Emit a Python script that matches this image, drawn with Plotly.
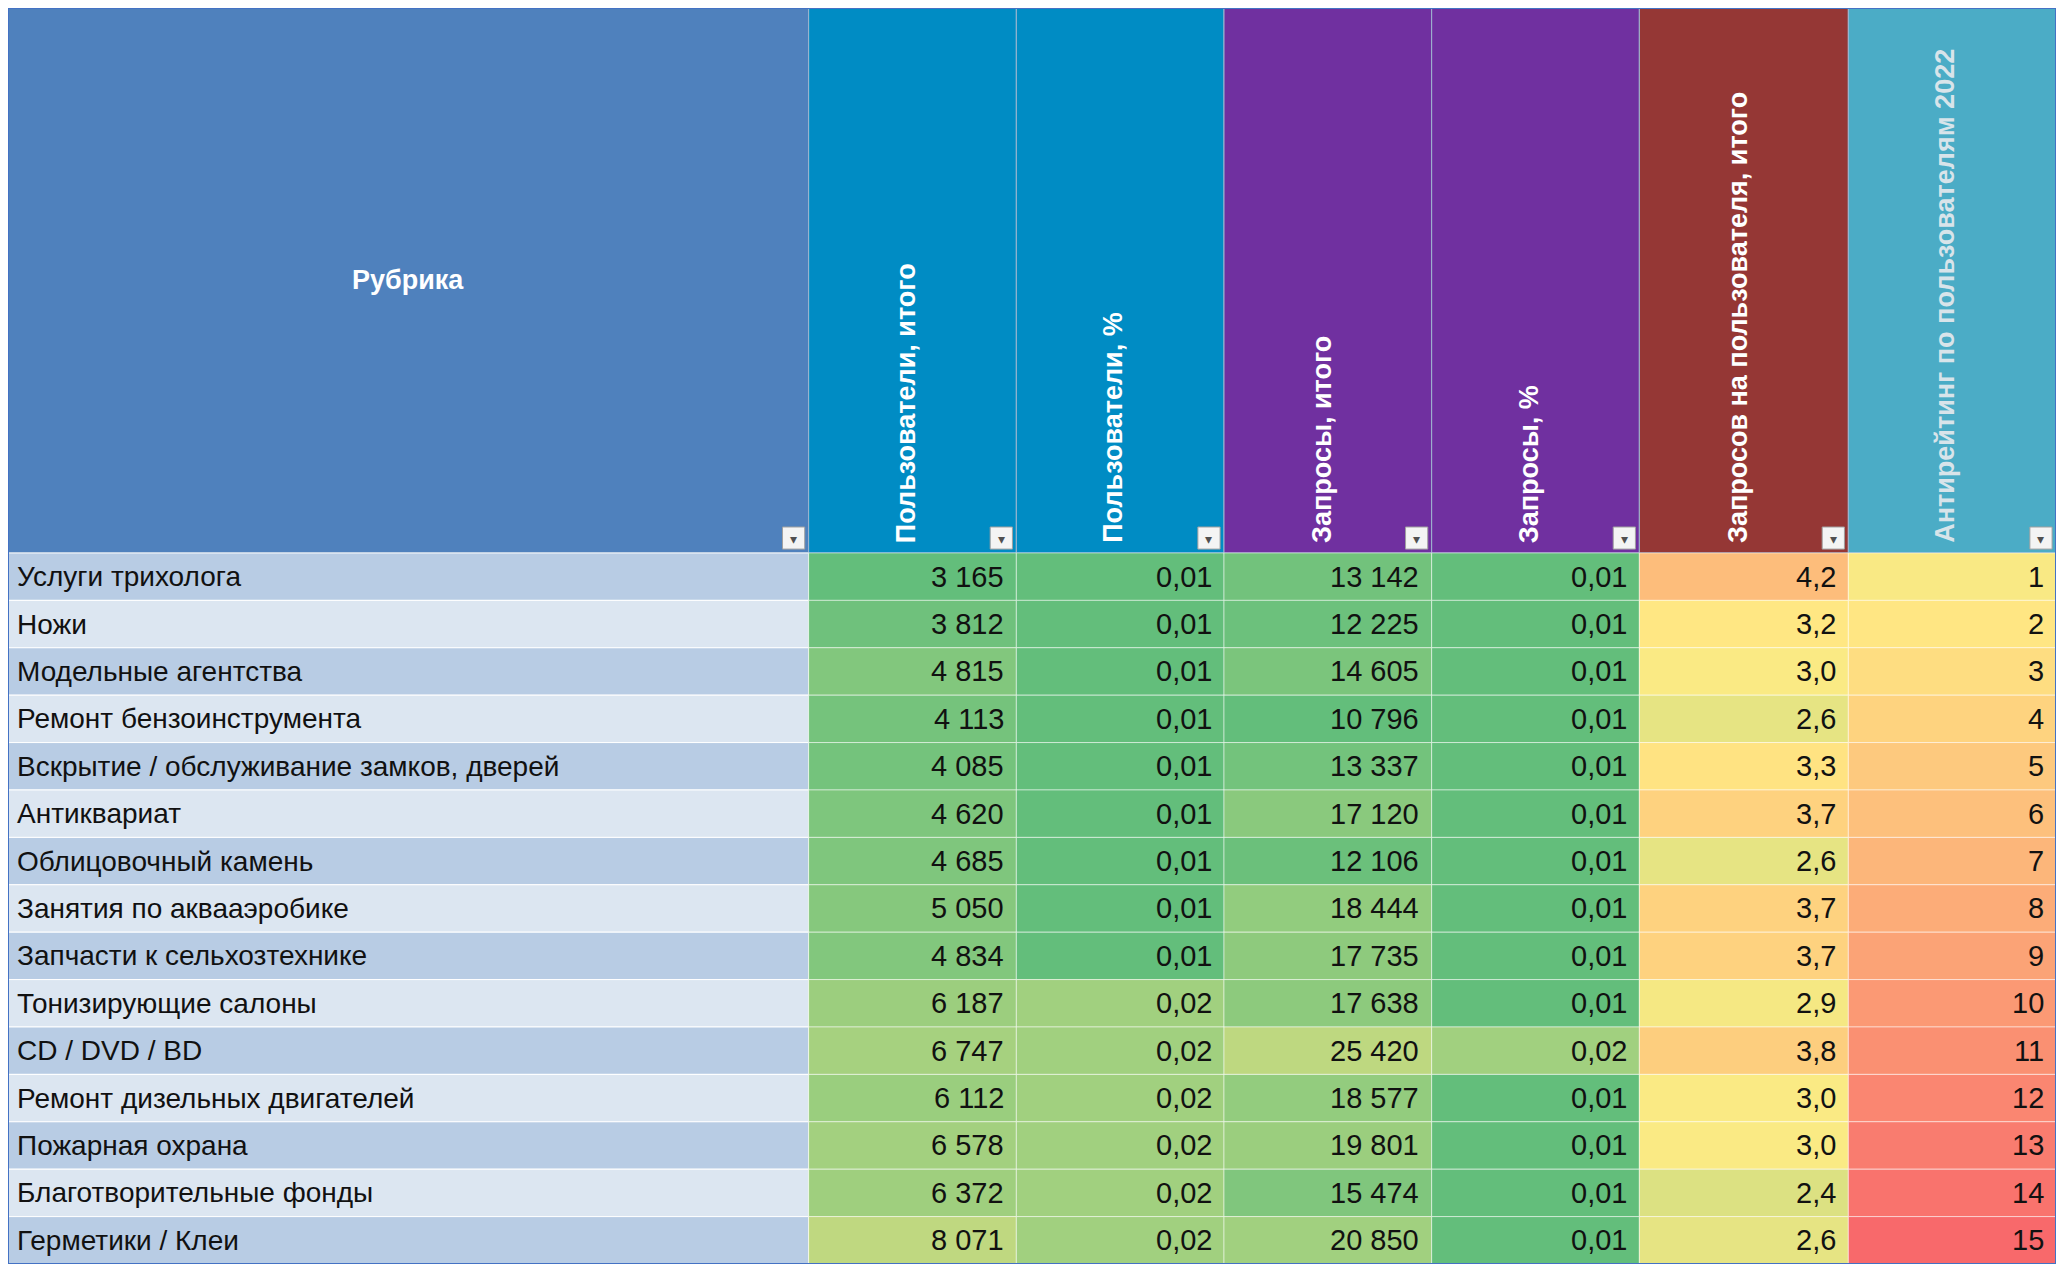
import plotly.graph_objects as go

rubrics = ["Услуги трихолога", "Ножи", "Модельные агентства", "Ремонт бензоинструмента",
           "Вскрытие / обслуживание замков, дверей", "Антиквариат", "Облицовочный камень",
           "Занятия по аквааэробике", "Запчасти к сельхозтехнике", "Тонизирующие салоны",
           "CD / DVD / BD", "Ремонт дизельных двигателей", "Пожарная охрана",
           "Благотворительные фонды", "Герметики / Клеи"]
users = [3165, 3812, 4815, 4113, 4085, 4620, 4685, 5050, 4834, 6187, 6747, 6112, 6578, 6372, 8071]
users_pct = [0.01] * 9 + [0.02] * 6
requests = [13142, 12225, 14605, 10796, 13337, 17120, 12106, 18444, 17735, 17638, 25420, 18577, 19801, 15474, 20850]
requests_pct = [0.01] * 10 + [0.02] + [0.01] * 4
per_user = [4.2, 3.2, 3.0, 2.6, 3.3, 3.7, 2.6, 3.7, 3.7, 2.9, 3.8, 3.0, 3.0, 2.4, 2.6]
antirating = list(range(1, 16))

headers = ["Рубрика", "Пользователи, итого", "Пользователи, %", "Запросы, итого",
           "Запросы, %", "Запросов на пользователя, итого", "Антирейтинг по пользователям 2022"]

# layout in 1568 x 968 units, scaled to the page
W, H = 1568, 968
edges = [0, 613, 772, 931, 1090, 1249, 1409, 1568]
head_h = 420
row_h = (H - head_h) / len(rubrics)
head_colors = ["#4f81bd", "#008cc4", "#008cc4", "#7030a0", "#7030a0", "#953735", "#4bacc6"]
head_font = ["white"] * 6 + ["#d8e4ea"]

GREEN, YELLOW, RED = (99, 190, 123), (255, 235, 132), (248, 105, 107)


def mix(c1, c2, t):
    return tuple(round(a + (b - a) * t) for a, b in zip(c1, c2))


def scale(v, lo, hi, stops):
    t = max(0, min(1, (v - lo) / (hi - lo)))
    n = len(stops) - 1
    i = min(int(t * n), n - 1)
    c = mix(stops[i], stops[i + 1], t * n - i)
    return "rgb(%d,%d,%d)" % c


cols = [
    (users, lambda v: f"{v:,}".replace(",", " "), lambda v: scale(v, 3165, 11500, [GREEN, YELLOW])),
    (users_pct, lambda v: f"{v:.2f}".replace(".", ","), lambda v: scale(v, 0.01, 0.035, [GREEN, YELLOW])),
    (requests, lambda v: f"{v:,}".replace(",", " "), lambda v: scale(v, 10796, 36000, [GREEN, YELLOW])),
    (requests_pct, lambda v: f"{v:.2f}".replace(".", ","), lambda v: scale(v, 0.01, 0.035, [GREEN, YELLOW])),
    (per_user, lambda v: f"{v:.1f}".replace(".", ","), lambda v: scale(v, 0.0, 6.2, [GREEN, YELLOW, RED])),
    (antirating, lambda v: str(v), lambda v: scale(v, -12, 15, [GREEN, YELLOW, RED])),
]

shapes, ann = [], []
FONT = "Liberation Sans, Arial"

for j, h in enumerate(headers):
    x0, x1 = edges[j], edges[j + 1]
    shapes.append(dict(type="rect", x0=x0, x1=x1, y0=0, y1=head_h, fillcolor=head_colors[j],
                       line=dict(color="#9fb6d0", width=1), layer="below"))
    if j == 0:
        ann.append(dict(x=(x0 + x1) / 2, y=210, text="<b>" + h + "</b>", showarrow=False,
                        font=dict(color="white", size=27, family=FONT)))
    else:
        ann.append(dict(x=(x0 + x1) / 2 - 5, y=head_h - 6, text="<b>" + h + "</b>", showarrow=False,
                        textangle=-90, yanchor="bottom", xanchor="center",
                        font=dict(color=head_font[j], size=27, family=FONT)))
    # filter button
    shapes.append(dict(type="rect", x0=x1 - 20, x1=x1 - 3, y0=head_h - 20, y1=head_h - 3,
                       fillcolor="#f4f4f4", line=dict(color="#a0a0a0", width=1)))
    ann.append(dict(x=x1 - 11.5, y=head_h - 11.5, text="▾", showarrow=False,
                    font=dict(size=14, color="#505050")))

for i, name in enumerate(rubrics):
    y0 = head_h + i * row_h
    y1 = y0 + row_h
    yc = (y0 + y1) / 2
    shapes.append(dict(type="rect", x0=edges[0], x1=edges[1], y0=y0, y1=y1,
                       fillcolor="#b8cce4" if i % 2 == 0 else "#dce6f1",
                       line=dict(color="white", width=1), layer="below"))
    ann.append(dict(x=5, y=yc, text=name, showarrow=False, xanchor="left",
                    font=dict(size=28, color="#111111", family=FONT)))
    for j, (vals, fmt, col) in enumerate(cols):
        x0, x1 = edges[j + 1], edges[j + 2]
        shapes.append(dict(type="rect", x0=x0, x1=x1, y0=y0, y1=y1, fillcolor=col(vals[i]),
                           line=dict(color="rgba(255,255,255,0.5)", width=1), layer="below"))
        ann.append(dict(x=x1 - 8, y=yc, text=fmt(vals[i]), showarrow=False, xanchor="right",
                        font=dict(size=29, color="#111111", family=FONT)))

shapes.append(dict(type="rect", x0=0, x1=W, y0=0, y1=H, line=dict(color="#4472c4", width=2)))

fig = go.Figure()
fig.update_layout(width=2048, height=1256, margin=dict(l=0, r=0, t=0, b=0),
                  paper_bgcolor="white", plot_bgcolor="white", shapes=shapes, annotations=ann,
                  xaxis=dict(range=[0, W], visible=False, fixedrange=True),
                  yaxis=dict(range=[H, 0], visible=False, fixedrange=True),
                  showlegend=False)
fig.write_html("out.html")
